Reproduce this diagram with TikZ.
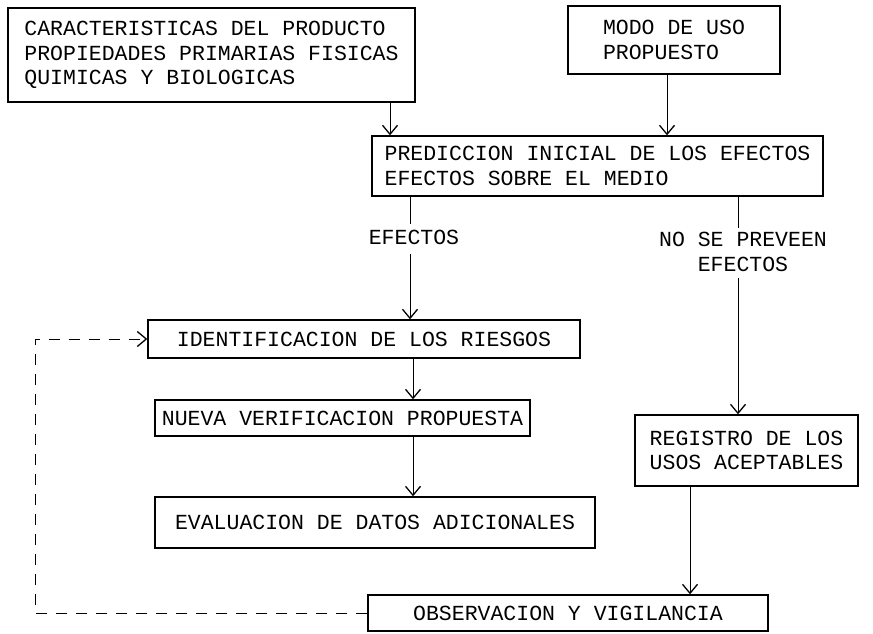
\documentclass[tikz,border=0pt]{standalone}
\usepackage{fontspec}
\setmainfont{Liberation Mono}
\usetikzlibrary{arrows.meta,positioning,calc}
\tikzstyle{block}=[draw,line width=1.4pt,align=left,inner sep=0pt,font=\fontsize{21.5}{24.5}\selectfont]
\tikzstyle{flowtext}=[align=center,inner sep=0pt,font=\fontsize{21.5}{24.5}\selectfont]
\tikzstyle{flow}=[line width=0.9pt,-{Straight Barb[length=9pt,width=15pt,line width=1.3pt]}]
\tikzstyle{feedback}=[flow,dash pattern=on 11pt off 9pt]

\begin{document}
\begin{tikzpicture}[x=1pt,y=-1pt]
\useasboundingbox (0,0) rectangle (873,634);
% boxes
\node [block,minimum width=407pt,minimum height=94pt] (car) at (211.5,55)
  {CARACTERISTICAS DEL PRODUCTO\\PROPIEDADES PRIMARIAS FISICAS\\QUIMICAS Y BIOLOGICAS};
\node [block,minimum width=212pt,minimum height=68pt] (modo) at (674,40)
  {MODO DE USO\\PROPUESTO};
\node [block,minimum width=451pt,minimum height=60pt] (pred) at (597.5,166)
  {PREDICCION INICIAL DE LOS EFECTOS\\EFECTOS SOBRE EL MEDIO};
\node [block,minimum width=432pt,minimum height=38pt] (ident) at (364,339)
  {IDENTIFICACION DE LOS RIESGOS};
\node [block,minimum width=375pt,minimum height=36pt] (nueva) at (342.5,418)
  {NUEVA VERIFICACION PROPUESTA};
\node [block,minimum width=440pt,minimum height=51pt] (eval) at (375,522.5)
  {EVALUACION DE DATOS ADICIONALES};
\node [block,minimum width=223pt,minimum height=71pt] (reg) at (746.5,450.5)
  {REGISTRO DE LOS\\USOS ACEPTABLES};
\node [block,minimum width=400pt,minimum height=36pt] (obs) at (568,613)
  {OBSERVACION Y VIGILANCIA};
% labels on the branches
\node [flowtext] (efe) at (414,237) {EFECTOS};
\node [flowtext] (nose) at (743,252) {NO SE PREVEEN\\EFECTOS};
% columns for the connectors
\coordinate (c1) at (390,0);
\coordinate (c2) at (667,0);
\coordinate (c3) at (410,0);
\coordinate (c4) at (413,0);
\coordinate (c5) at (738,0);
\coordinate (c6) at (690,0);
\coordinate (fb) at (35,0);
% connectors
\draw [flow] (car.south -| c1) -- (pred.north -| c1);
\draw [flow] (modo.south -| c2) -- (pred.north -| c2);
\draw [line width=0.9pt] (pred.south -| c3) -- ($(efe.north -| c3)+(0,-6)$);
\draw [flow] ($(efe.south -| c3)+(0,10)$) -- (ident.north -| c3);
\draw [flow] (ident.south -| c4) -- (nueva.north -| c4);
\draw [flow] (nueva.south -| c4) -- (eval.north -| c4);
\draw [line width=0.9pt] (pred.south -| c5) -- ($(nose.north -| c5)+(0,-4)$);
\draw [flow] ($(nose.south -| c5)+(0,6)$) -- (reg.north -| c5);
\draw [flow] (reg.south -| c6) -- (obs.north -| c6);
\draw [feedback] (obs.west) -| (fb |- ident.west) -- (ident.west);
\end{tikzpicture}
\end{document}
